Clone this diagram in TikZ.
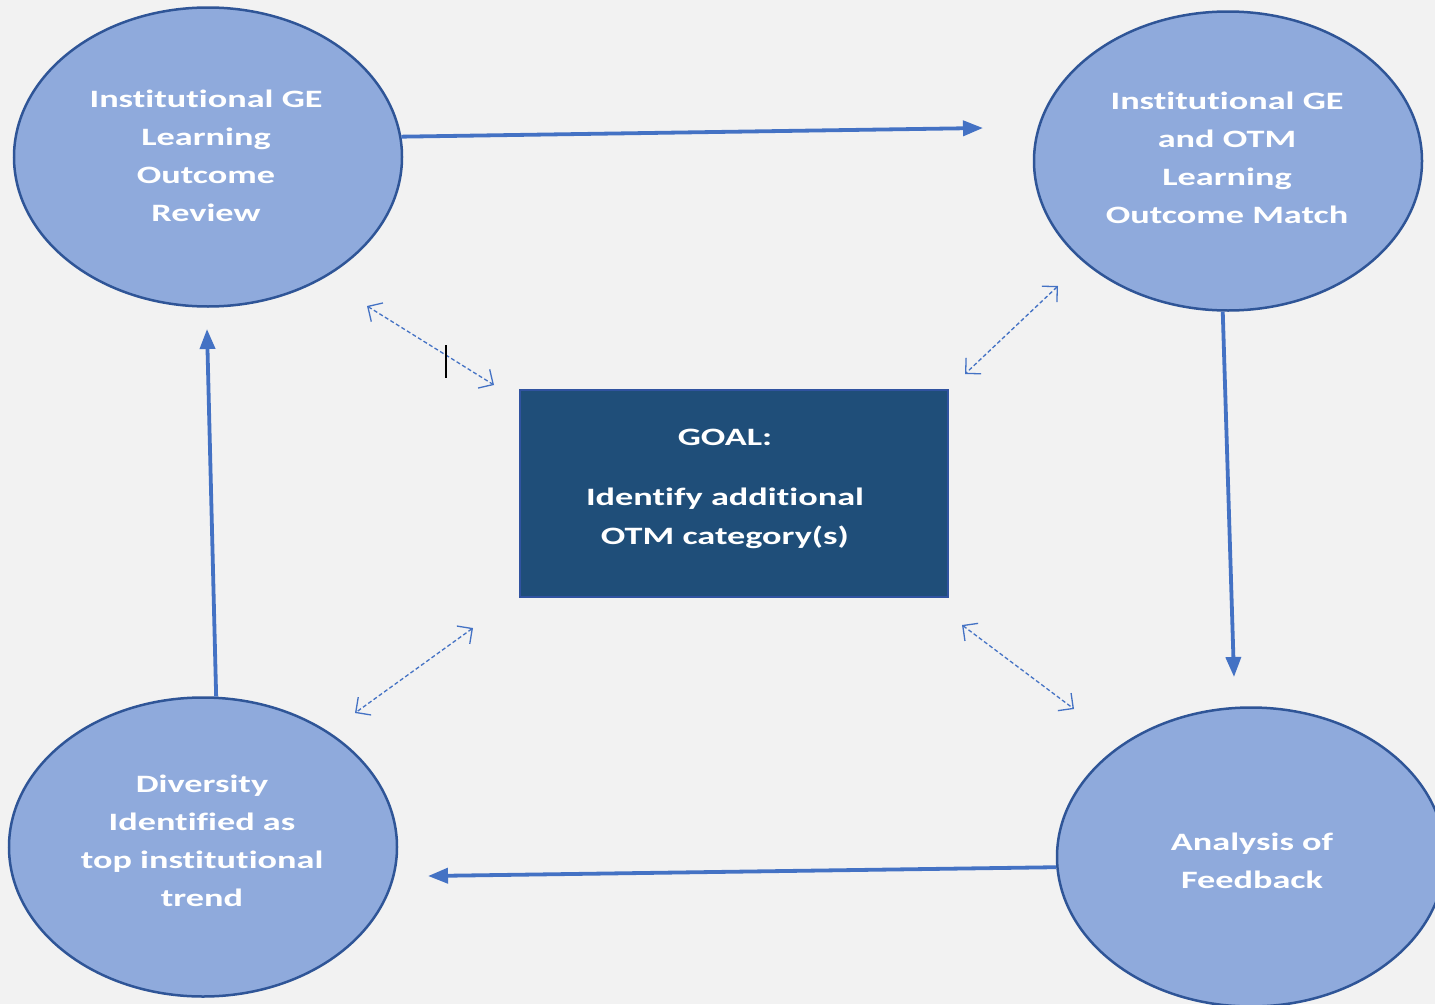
\documentclass[tikz,border=0pt]{standalone}
\usepackage{fontspec}
\setmainfont[Ligatures=NoCommon]{Carlito}
\usetikzlibrary{shapes.geometric,arrows.meta}
\definecolor{bg}{HTML}{F2F2F2}
\definecolor{ellfill}{HTML}{8FAADC}
\definecolor{ellline}{HTML}{2F5597}
\definecolor{goalfill}{HTML}{1F4E79}
\definecolor{goalline}{HTML}{3053A0}
\definecolor{arr}{HTML}{4472C4}
\newcommand\wtxt[1]{\scalebox{1.45}[1]{\begin{tabular}{@{}c@{}}#1\end{tabular}}}
\begin{document}
\begin{tikzpicture}[x=1pt,y=-1pt,
  stage/.style={ellipse, draw=ellline, line width=2.5pt, fill=ellfill,
    minimum width=388pt, minimum height=299pt, inner sep=0pt},
  stagetext/.style={text=white, inner sep=0pt,
    font=\fontsize{25}{38}\selectfont\bfseries},
  goalbox/.style={rectangle, draw=goalline, line width=2.5pt, fill=goalfill,
    minimum width=428pt, minimum height=207pt, inner sep=0pt},
  goaltext/.style={text=white, inner sep=0pt, font=\fontsize{25}{39}\selectfont\bfseries},
  flow/.style={draw=arr, line width=3.8pt, -{Triangle[length=20pt,width=15pt]}},
  link/.style={draw=arr, line width=1.3pt, dash pattern=on 4pt off 2.5pt,
    {Straight Barb[length=11pt,width=22pt]}-{Straight Barb[length=11pt,width=22pt]}},
  caret/.style={draw=black, line width=2pt}
]
\useasboundingbox (0,0) rectangle (1435,1004);
\clip (0,0) rectangle (1435,1004);
\fill[bg] (0,0) rectangle (1435,1004);

\node[stage] (tl) at (208,157) {};
\node[stage] (tr) at (1228,161) {};
\node[stage] (bl) at (203,847) {};
\node[stage] (br) at (1251,857) {};
\node[stagetext] (tltxt) at (206,157) {\wtxt{Institutional GE\\Learning\\Outcome\\Review}};
\node[stagetext] (trtxt) at (1227,159) {\wtxt{Institutional GE\\and OTM\\Learning\\Outcome Match}};
\node[stagetext] (bltxt) at (202,842) {\wtxt{Diversity\\Identified as\\top institutional\\trend}};
\node[stagetext] (brtxt) at (1252,862) {\wtxt{Analysis of\\Feedback}};

\node[goalbox] (goal) at (734,493.5) {};
\node[goaltext] (goaltxt) at (725,487) {\wtxt{GOAL:\\[21pt]Identify additional\\OTM category(s)}};

% main cycle
\coordinate (e1) at (983,128);
\coordinate (e2) at (1234,677);
\coordinate (e3) at (428,876);
\coordinate (e4) at (207,329);
\draw[flow] (tl.6) -- (e1);
\draw[flow] (tr.268) -- (e2);
\draw[flow] (br.183) -- (e3);
\draw[flow] (bl.85) -- (e4);

% dashed links to goal
\coordinate (d1a) at (367,306); \coordinate (d1b) at (494,385);
\coordinate (d2a) at (1058,286); \coordinate (d2b) at (965,374);
\coordinate (d3a) at (473,628); \coordinate (d3b) at (355,713);
\coordinate (d4a) at (962,625); \coordinate (d4b) at (1074,709);
\draw[link] (d1a) -- (d1b);
\draw[link] (d2a) -- (d2b);
\draw[link] (d3a) -- (d3b);
\draw[link] (d4a) -- (d4b);

% text cursor
\coordinate (c1) at (446,345); \coordinate (c2) at (446,378);
\draw[caret] (c1) -- (c2);
\end{tikzpicture}
\end{document}
